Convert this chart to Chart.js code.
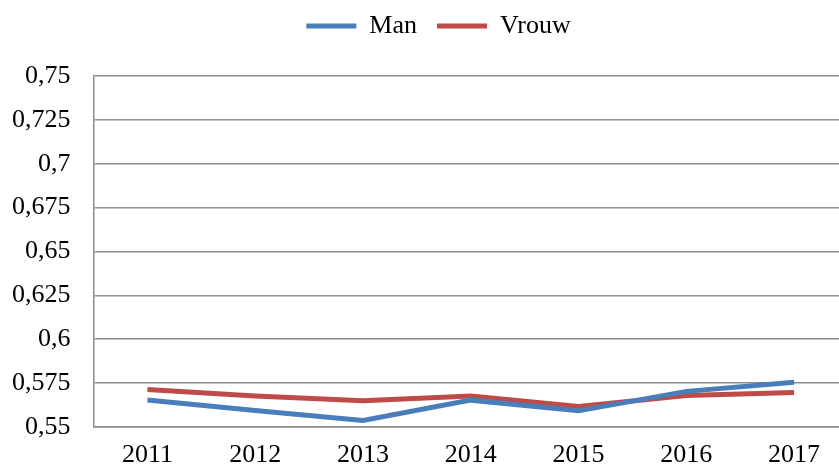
<!DOCTYPE html>
<html>
<head>
<meta charset="utf-8">
<script src="https://cdn.jsdelivr.net/npm/chart.js@4"></script>
<style>
  html, body { margin: 0; padding: 0; background: #fff; overflow: hidden; }
  #wrap { width: 839px; height: 470px; overflow: hidden; }
  #box { width: 874px; height: 470px; }
</style>
</head>
<body>
<div id="wrap"><div id="box"><canvas id="graf"></canvas></div></div>
<script>
// jaren en waarden
var jaren = ['2011', '2012', '2013', '2014', '2015', '2016', '2017'];
var man = [0.5653, 0.5593, 0.5536, 0.5652, 0.5591, 0.5702, 0.5754];
var vrouw = [0.5712, 0.5676, 0.5649, 0.5675, 0.5616, 0.5679, 0.5695];
var yLabels = ['0,55', '0,575', '0,6', '0,625', '0,65', '0,675', '0,7', '0,725', '0,75'];

var font = { family: "'Liberation Serif', 'Times New Roman', serif", size: 26 };
var grijs = '#8c8c8c';

// extra ruimte onder de legenda en legenda iets naar rechts
var legendaRuimte = {
    id: 'legendaRuimte',
    beforeInit: function (chart) {
        var fit = chart.legend.fit;
        chart.legend.fit = function () {
            fit.bind(chart.legend)();
            this.height += 27;
        };
    },
    afterLayout: function (chart) {
        chart.legend.left += 20;
        chart.legend.right += 20;
    }
};

var ctx = document.getElementById('graf').getContext('2d');
var myChart = new Chart(ctx, {
    type: 'line',
    data: {
        labels: jaren,
        datasets: [{
            label: 'Man',
            data: man,
            borderColor: '#4a7ebb',
            backgroundColor: '#4a7ebb',
            borderWidth: 5,
            pointRadius: 0,
            tension: 0
        }, {
            label: 'Vrouw',
            data: vrouw,
            borderColor: '#be4b48',
            backgroundColor: '#be4b48',
            borderWidth: 5,
            pointRadius: 0,
            tension: 0
        }]
    },
    plugins: [legendaRuimte],
    options: {
        responsive: true,
        maintainAspectRatio: false,
        animation: false,
        layout: { padding: { left: -11, top: -7, right: 26, bottom: -14 } },
        plugins: {
            tooltip: { enabled: false },
            legend: {
                position: 'top',
                labels: {
                    font: font,
                    color: '#000',
                    boxWidth: 50,
                    boxHeight: 5,
                    padding: 20,
                    generateLabels: function (chart) {
                        var items = Chart.defaults.plugins.legend.labels.generateLabels(chart);
                        items.forEach(function (it) {
                            it.lineWidth = 0;
                            it.fillStyle = chart.data.datasets[it.datasetIndex].borderColor;
                        });
                        return items;
                    }
                }
            }
        },
        scales: {
            x: {
                offset: true,
                grid: { display: false, drawTicks: false },
                border: { color: grijs, width: 1.5 },
                ticks: { font: font, color: '#000', padding: 13, maxRotation: 0 }
            },
            y: {
                min: 0.55,
                max: 0.75,
                grid: { color: grijs, lineWidth: 1.5, drawTicks: false },
                border: { color: grijs, width: 1.5 },
                ticks: {
                    stepSize: 0.025,
                    font: font,
                    color: '#000',
                    padding: 23,
                    callback: function (v, i) { return yLabels[i]; }
                }
            }
        }
    }
});
</script>
</body>
</html>
